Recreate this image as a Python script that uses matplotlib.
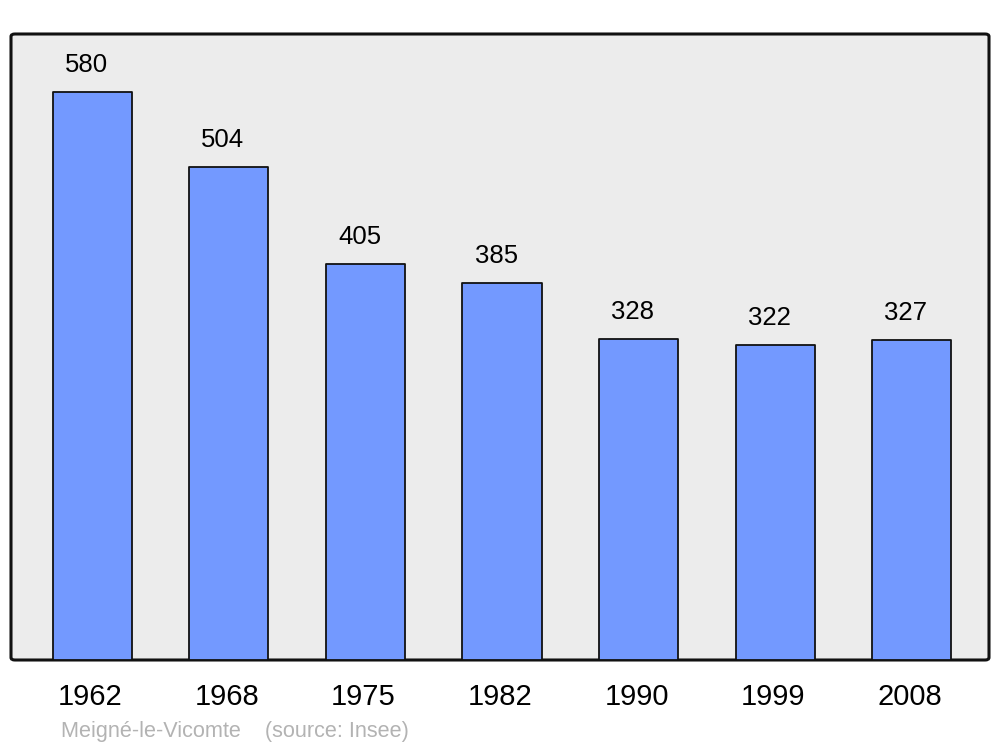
import matplotlib
matplotlib.use("Agg")
import matplotlib.pyplot as plt
from matplotlib.patches import FancyBboxPatch

plt.rcParams['font.family'] = ['Liberation Sans', 'DejaVu Sans']

years = ["1962", "1968", "1975", "1982", "1990", "1999", "2008"]
population = [580, 504, 405, 385, 328, 322, 327]
title_text = "Meigné-le-Vicomte    (source: Insee)"

fig = plt.figure(figsize=(10, 7.47), dpi=100)
ax = fig.add_axes([0.011, (747 - 660) / 747, 0.978, 626 / 747])
ax.set_xlim(-0.595, 6.565)
ax.set_ylim(0, 639.5)
ax.axis('off')

# rounded background frame
bg = FancyBboxPatch((0, 0), 1, 1, boxstyle="round,pad=0,rounding_size=0.004",
                    transform=ax.transAxes, facecolor="#ececec", edgecolor="#111111",
                    linewidth=2.2, zorder=0, clip_on=False)
ax.add_patch(bg)

x = list(range(len(years)))
bars = ax.bar(x, population, width=0.58, color="#7399ff", edgecolor="#111111",
              linewidth=1.3, zorder=2)
for b in bars:
    b.set_joinstyle('round')

for xi, v in zip(x, population):
    ax.annotate(str(v), (xi, v), xytext=(-4.3, 19.3), textcoords="offset points",
                ha="center", va="center", fontsize=18.5, color="black")

for xi, yr in zip(x, years):
    fig.text(0.011 + 0.978 * (xi + 0.595) / 7.16 - 0.002, 1 - 697 / 747, yr,
             ha="center", va="center", fontsize=21, color="black")

fig.text(0.061, 1 - 731 / 747, title_text, ha="left", va="center",
         fontsize=15.6, color="#b3b3b3")

fig.savefig("out.png", dpi=100)
